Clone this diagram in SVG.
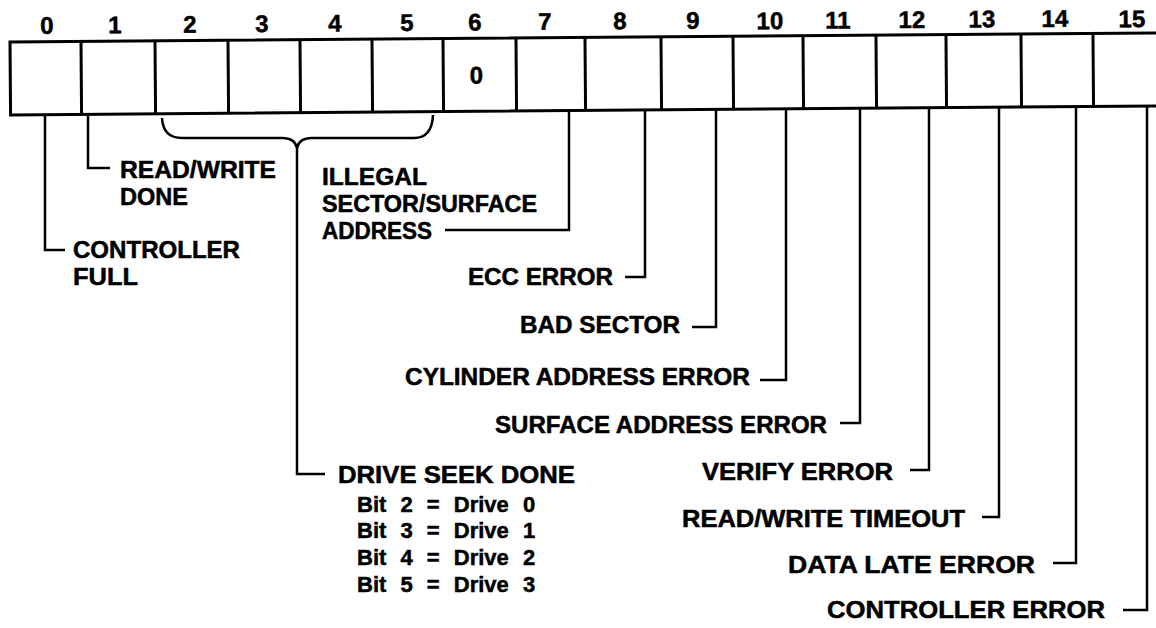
<svg xmlns="http://www.w3.org/2000/svg" width="1156" height="628" viewBox="0 0 1156 628">
<style>
text{font-family:"Liberation Sans",Arial,sans-serif;font-weight:bold;fill:#000;stroke:#000;stroke-width:0.5}
.num{font-size:24px;text-anchor:middle}
.lbl{font-size:23px}
.bit{font-size:22px;word-spacing:8px}
.box{fill:#fff;stroke:#000;stroke-width:3}
.div{stroke:#000;stroke-width:3}
.con{fill:none;stroke:#000;stroke-width:2.5;stroke-linejoin:miter}
</style>
<rect width="1156" height="628" fill="#fff"/>
<g id="register" transform="rotate(-0.45 10 42)">
<rect class="box" x="10" y="42" width="1160" height="73"/>
<g id="dividers">
<line class="div" x1="81" y1="42" x2="81" y2="115"/>
<line class="div" x1="155" y1="42" x2="155" y2="115"/>
<line class="div" x1="228" y1="42" x2="228" y2="115"/>
<line class="div" x1="300" y1="42" x2="300" y2="115"/>
<line class="div" x1="372" y1="42" x2="372" y2="115"/>
<line class="div" x1="443" y1="42" x2="443" y2="115"/>
<line class="div" x1="516" y1="42" x2="516" y2="115"/>
<line class="div" x1="585" y1="42" x2="585" y2="115"/>
<line class="div" x1="661" y1="42" x2="661" y2="115"/>
<line class="div" x1="733" y1="42" x2="733" y2="115"/>
<line class="div" x1="803" y1="42" x2="803" y2="115"/>
<line class="div" x1="876" y1="42" x2="876" y2="115"/>
<line class="div" x1="946" y1="42" x2="946" y2="115"/>
<line class="div" x1="1021" y1="42" x2="1021" y2="115"/>
<line class="div" x1="1093" y1="42" x2="1093" y2="115"/>
</g>
<g id="bit-numbers">
<text class="num" x="47" y="34">0</text>
<text class="num" x="115" y="34">1</text>
<text class="num" x="190" y="34">2</text>
<text class="num" x="262" y="34">3</text>
<text class="num" x="335" y="34">4</text>
<text class="num" x="407" y="34">5</text>
<text class="num" x="475" y="34">6</text>
<text class="num" x="545" y="34">7</text>
<text class="num" x="620" y="34">8</text>
<text class="num" x="693" y="34">9</text>
<text class="num" x="770" y="35">10</text>
<text class="num" x="838" y="35">11</text>
<text class="num" x="912" y="35">12</text>
<text class="num" x="982" y="35">13</text>
<text class="num" x="1055" y="35">14</text>
<text class="num" x="1132" y="36">15</text>
</g>
<text class="num" x="476" y="87">0</text>
</g>
<g id="connectors">
<path class="con" d="M45,114 V250 H65"/>
<path class="con" d="M88,114 V168 H110"/>
<path class="con" d="M162,118 Q163,138 182,138 L282,138 Q295,138 297,148 Q299,138 312,138 L414,138 Q432,138 433,115"/>
<path class="con" d="M297,148 V474 H325"/>
<path class="con" d="M569,110 V230 H445"/>
<path class="con" d="M645,110 V277 H625"/>
<path class="con" d="M716,109 V327 H692"/>
<path class="con" d="M786,109 V380 H760"/>
<path class="con" d="M860,108 V423 H840"/>
<path class="con" d="M929,108 V470 H910"/>
<path class="con" d="M999,107 V517 H982"/>
<path class="con" d="M1076,107 V563 H1053"/>
<path class="con" d="M1147,106 V610 H1123"/>
</g>
<g id="controller-full">
<text class="lbl" x="73" y="258" textLength="167" lengthAdjust="spacingAndGlyphs">CONTROLLER</text>
<text class="lbl" x="73" y="285" textLength="65" lengthAdjust="spacingAndGlyphs">FULL</text>
</g>
<g id="rw-done">
<text class="lbl" x="120" y="178" textLength="156" lengthAdjust="spacingAndGlyphs">READ/WRITE</text>
<text class="lbl" x="120" y="205" textLength="68" lengthAdjust="spacingAndGlyphs">DONE</text>
</g>
<g id="illegal-address">
<text class="lbl" x="322" y="185" textLength="105" lengthAdjust="spacingAndGlyphs">ILLEGAL</text>
<text class="lbl" x="322" y="212" textLength="215" lengthAdjust="spacingAndGlyphs">SECTOR/SURFACE</text>
<text class="lbl" x="322" y="239" textLength="110" lengthAdjust="spacingAndGlyphs">ADDRESS</text>
</g>
<g id="drive-seek-done">
<text class="lbl" x="338" y="483" textLength="237" lengthAdjust="spacingAndGlyphs">DRIVE SEEK DONE</text>
<text class="bit" x="357" y="512">Bit 2 = Drive 0</text>
<text class="bit" x="357" y="538">Bit 3 = Drive 1</text>
<text class="bit" x="357" y="565">Bit 4 = Drive 2</text>
<text class="bit" x="357" y="592">Bit 5 = Drive 3</text>
</g>
<g id="ecc-error"><text class="lbl" x="468" y="285" textLength="145" lengthAdjust="spacingAndGlyphs">ECC ERROR</text></g>
<g id="bad-sector"><text class="lbl" x="520" y="333" textLength="160" lengthAdjust="spacingAndGlyphs">BAD SECTOR</text></g>
<g id="cylinder-address-error"><text class="lbl" x="405" y="385" textLength="345" lengthAdjust="spacingAndGlyphs">CYLINDER ADDRESS ERROR</text></g>
<g id="surface-address-error"><text class="lbl" x="495" y="433" textLength="332" lengthAdjust="spacingAndGlyphs">SURFACE ADDRESS ERROR</text></g>
<g id="verify-error"><text class="lbl" x="702" y="480" textLength="191" lengthAdjust="spacingAndGlyphs">VERIFY ERROR</text></g>
<g id="rw-timeout"><text class="lbl" x="682" y="527" textLength="283" lengthAdjust="spacingAndGlyphs">READ/WRITE TIMEOUT</text></g>
<g id="data-late-error"><text class="lbl" x="788" y="573" textLength="247" lengthAdjust="spacingAndGlyphs">DATA LATE ERROR</text></g>
<g id="controller-error"><text class="lbl" x="827" y="618" textLength="278" lengthAdjust="spacingAndGlyphs">CONTROLLER ERROR</text></g>
</svg>
